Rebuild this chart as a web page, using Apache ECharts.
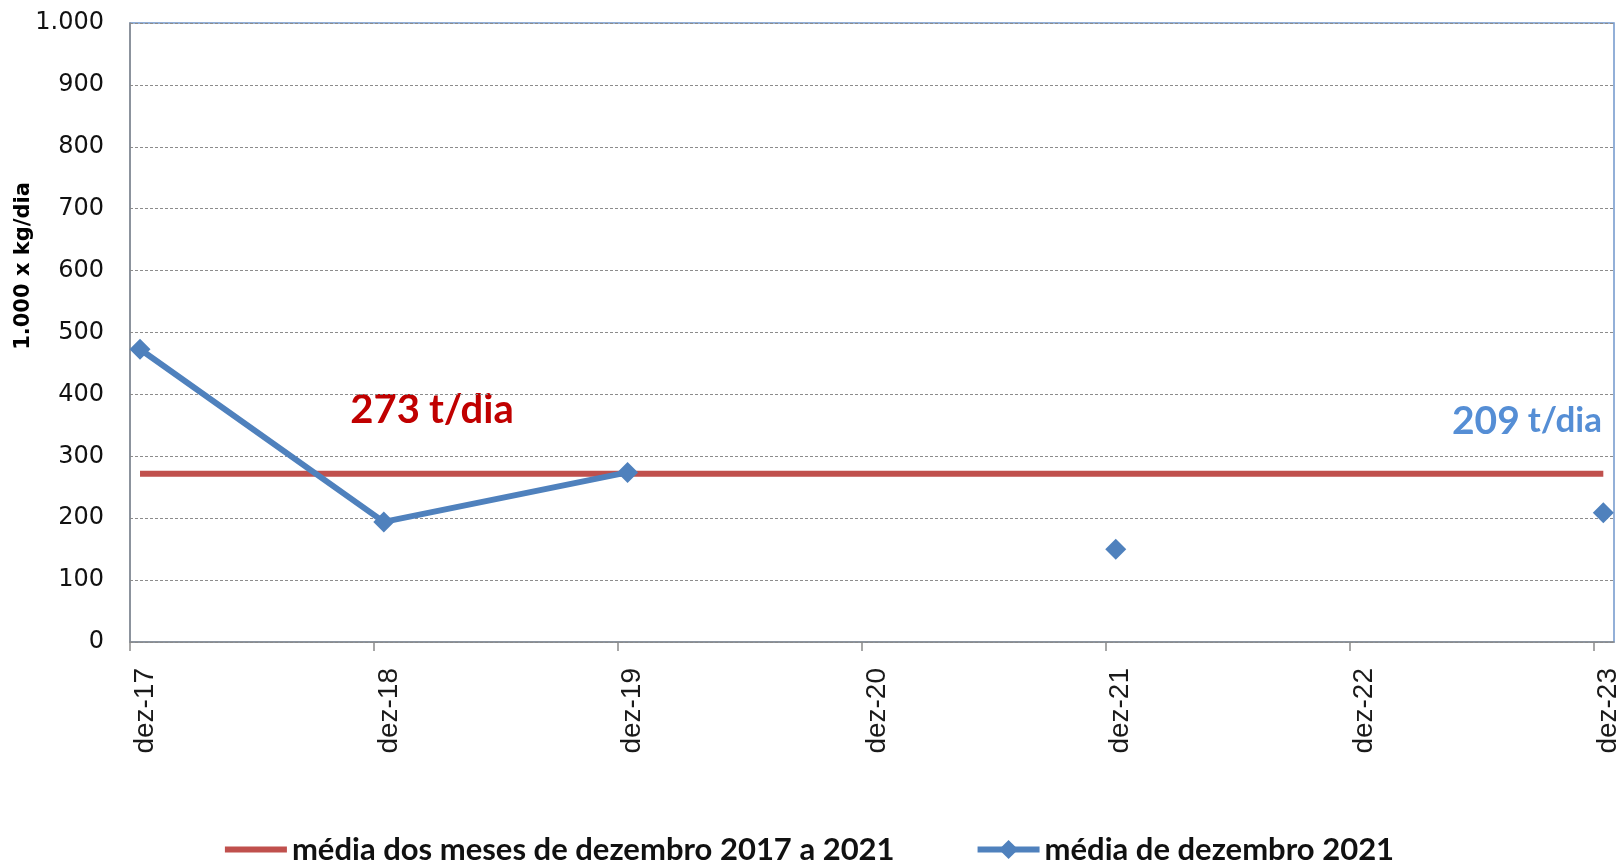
<!DOCTYPE html>
<html><head><meta charset="utf-8">
<script src="https://cdn.jsdelivr.net/npm/echarts@6/dist/echarts.min.js"></script>
<style>html,body{margin:0;padding:0;background:#fff}#c{width:1619px;height:863px}</style>
</head><body><div id="c"></div>
<script>
// ---- data ----
const tickLabels = ['dez-17','dez-18','dez-19','dez-20','dez-21','dez-22','dez-23'];
const years = [2017, 2018, 2019, 2020, 2021, 2022, 2023];
const dezembroValues = [473, 194, 274, null, 150, null, 209];   // média de dezembro
const mediaValues = [272, 272, 272, 272, 272, 272, 272];          // média dos meses de dezembro 2017 a 2021
const seriesNames = ['média dos meses de dezembro 2017 a 2021', 'média de dezembro 2021'];
const yAxisName = '1.000 x kg/dia';
const annotRed = ['273', 't/dia'];
const annotBlue = ['209', 't/dia'];

// ---- build (x = date as timestamp, each point sits mid-month as in the source date axis) ----
const midDec = y => new Date(y, 11, 16).getTime();
const startDec = y => new Date(y, 11, 1).getTime();
const ptsDez = years.map((y, i) => [midDec(y), dezembroValues[i] == null ? '-' : dezembroValues[i]]);
const ptsMedia = years.map((y, i) => [midDec(y), mediaValues[i]]);
const fmtThousands = v => String(v).replace(/\B(?=(\d{3})+(?!\d))/g, '.');

const chart = echarts.init(document.getElementById('c'), null, {renderer: 'canvas'});
chart.setOption({
  animation: false,
  backgroundColor: '#fff',
  grid: {left: 130, right: 5, top: 23, bottom: 221, show: true, borderColor: '#7096CC', borderWidth: 1.5, outerBoundsMode: 'none'},
  xAxis: {
    type: 'value',
    scale: true,
    min: startDec(years[0]),
    max: new Date(years[years.length - 1] + 1, 0, 1).getTime(),
    axisLine: {show: true, onZero: false, lineStyle: {color: '#8a8a8a', width: 1.5}},
    axisTick: {show: true, length: 9, lineStyle: {color: '#8a8a8a', width: 1.5}, customValues: years.map(startDec)},
    axisLabel: {
      customValues: years.map(midDec),
      rotate: 90, margin: 26, verticalAlign: 'top', lineHeight: 10,
      fontFamily: 'Liberation Sans', fontSize: 28, color: '#1a1a1a',
      formatter: v => tickLabels[years.indexOf(new Date(v).getFullYear())]
    },
    splitLine: {show: false}
  },
  yAxis: {
    type: 'value', min: 0, max: 1000, interval: 100,
    axisLine: {show: true, lineStyle: {color: '#8a8a8a', width: 1.5}},
    axisTick: {show: false},
    axisLabel: {margin: 26, fontFamily: 'DejaVu Sans', fontSize: 24, color: '#111', formatter: fmtThousands},
    splitLine: {show: true, lineStyle: {color: '#8c8c8c', type: [3, 2], width: 1}}
  },
  legend: {
    top: 829, left: 'center', itemGap: 80, itemWidth: 62, itemHeight: 24,
    textStyle: {fontFamily: 'Lato', fontWeight: 'bold', fontSize: 31, color: '#111'},
    data: [
      {name: seriesNames[0], icon: 'path://M0 0H62M0 9H62V15H0ZM0 24H62', itemStyle: {color: '#C0504D', borderWidth: 0}},
      {name: seriesNames[1], lineStyle: {width: 6}}
    ]
  },
  series: [
    {
      name: seriesNames[0], type: 'line', data: ptsMedia, symbol: 'none',
      lineStyle: {color: '#C0504D', width: 6}, itemStyle: {color: '#C0504D'}, z: 2
    },
    {
      name: seriesNames[1], type: 'line', data: ptsDez, symbol: 'diamond', symbolSize: 21,
      connectNulls: false,
      lineStyle: {color: '#4F81BD', width: 6}, itemStyle: {color: '#4F81BD'}, z: 3
    }
  ],
  graphic: [
    {type: 'text', x: 24, y: 266, rotation: Math.PI / 2,
     style: {text: yAxisName, fontFamily: 'DejaVu Sans', fontWeight: 'bold', fontSize: 21, fill: '#000', align: 'center', verticalAlign: 'middle'}},
    {type: 'text', x: 432, y: 410,
     style: {text: '{n|' + annotRed[0] + '}{u|' + annotRed[1] + '}', align: 'center', verticalAlign: 'middle',
       rich: {n: {fontFamily: 'Lato', fontWeight: 'bold', fontSize: 40, fill: '#C00000'},
              u: {fontFamily: 'Lato', fontWeight: 'bold', fontSize: 40, fill: '#C00000', padding: [0, 0, 0, 9]}}}},
    {type: 'text', x: 1527, y: 421,
     style: {text: '{n|' + annotBlue[0] + '}{u|' + annotBlue[1] + '}', align: 'center', verticalAlign: 'middle',
       rich: {n: {fontFamily: 'Lato', fontWeight: 'bold', fontSize: 39, fill: '#558ED5'},
              u: {fontFamily: 'Lato', fontWeight: 'bold', fontSize: 35, fill: '#558ED5', padding: [0, 0, 0, 8]}}}}
  ]
});
</script></body></html>
